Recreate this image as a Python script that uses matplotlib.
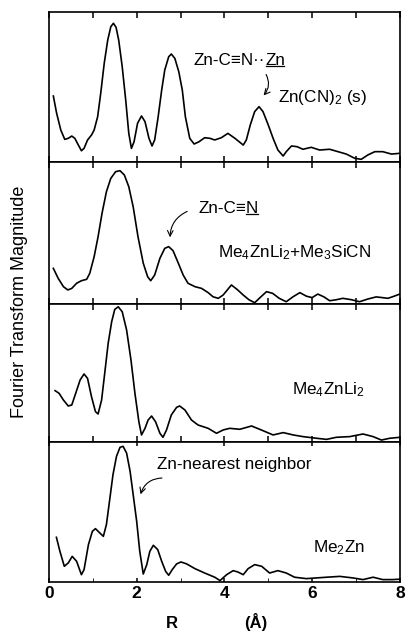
import matplotlib
matplotlib.use("Agg")
import matplotlib.pyplot as plt
from matplotlib.lines import Line2D

plt.rcParams["font.family"] = ["Liberation Sans", "DejaVu Sans"]
plt.rcParams["mathtext.fontset"] = "custom"
plt.rcParams["mathtext.rm"] = "Liberation Sans"
plt.rcParams["mathtext.it"] = "Liberation Sans:italic"
plt.rcParams["mathtext.bf"] = "Liberation Sans:bold"

# R (Angstrom) and normalised FT magnitude (top to bottom)
r_zncn = [0.10, 0.175, 0.27, 0.36, 0.44, 0.52, 0.59, 0.67, 0.74, 0.80, 0.88, 0.97, 1.03, 1.11, 1.18,
          1.26, 1.34, 1.41, 1.47, 1.53, 1.59, 1.67, 1.75, 1.82, 1.88, 1.94, 2.02, 2.11, 2.19, 2.28,
          2.35, 2.41, 2.49, 2.57, 2.64, 2.73, 2.79, 2.87, 2.96, 3.04, 3.11, 3.21, 3.31, 3.42, 3.55,
          3.67, 3.78, 3.93, 4.08, 4.24, 4.43, 4.50, 4.59, 4.69, 4.79, 4.88, 5.00, 5.11, 5.22, 5.34,
          5.41, 5.53, 5.66, 5.79, 5.98, 6.17, 6.40, 6.59, 6.78, 6.97, 7.12, 7.27, 7.43, 7.61, 7.81, 8.00]
m_zncn = [0.44, 0.325, 0.213, 0.151, 0.158, 0.173, 0.158, 0.113, 0.075, 0.091, 0.147, 0.18, 0.213, 0.302, 0.458,
          0.658, 0.813, 0.902, 0.925, 0.898, 0.813, 0.636, 0.413, 0.191, 0.091, 0.135, 0.258, 0.307, 0.269, 0.158,
          0.107, 0.147, 0.302, 0.48, 0.613, 0.702, 0.72, 0.691, 0.602, 0.48, 0.302, 0.158, 0.12, 0.135, 0.162,
          0.158, 0.147, 0.162, 0.191, 0.158, 0.113, 0.147, 0.247, 0.336, 0.369, 0.336, 0.247, 0.158, 0.08, 0.04,
          0.069, 0.107, 0.102, 0.085, 0.098, 0.08, 0.085, 0.069, 0.053, 0.025, 0.018, 0.047, 0.069, 0.069, 0.053, 0.058]

r_mix = [0.10, 0.21, 0.33, 0.43, 0.52, 0.63, 0.74, 0.86, 0.93, 1.03, 1.12, 1.21, 1.31, 1.41, 1.52,
         1.62, 1.72, 1.82, 1.92, 2.03, 2.15, 2.25, 2.32, 2.41, 2.53, 2.64, 2.73, 2.83, 2.95, 3.06,
         3.17, 3.33, 3.48, 3.63, 3.74, 3.86, 3.97, 4.16, 4.30, 4.43, 4.56, 4.69, 4.83, 4.96, 5.10,
         5.25, 5.41, 5.56, 5.72, 5.87, 6.00, 6.13, 6.27, 6.40, 6.55, 6.70, 6.90, 7.08, 7.27, 7.46,
         7.60, 7.73, 7.87, 8.00]
m_mix = [0.251, 0.181, 0.122, 0.099, 0.11, 0.146, 0.164, 0.174, 0.216, 0.333, 0.474, 0.639, 0.791, 0.885, 0.932,
         0.939, 0.908, 0.826, 0.685, 0.474, 0.287, 0.192, 0.164, 0.204, 0.322, 0.392, 0.404, 0.375, 0.287, 0.204,
         0.146, 0.122, 0.11, 0.08, 0.051, 0.04, 0.063, 0.134, 0.10, 0.063, 0.03, 0.009, 0.05, 0.087, 0.075,
         0.04, 0.016, 0.05, 0.08, 0.055, 0.045, 0.07, 0.05, 0.023, 0.03, 0.04, 0.03, 0.016, 0.035, 0.05,
         0.045, 0.04, 0.055, 0.07]

r_li = [0.14, 0.23, 0.33, 0.44, 0.52, 0.61, 0.71, 0.80, 0.88, 0.97, 1.06, 1.12, 1.20, 1.28, 1.35,
        1.43, 1.50, 1.58, 1.67, 1.77, 1.87, 1.96, 2.05, 2.11, 2.19, 2.26, 2.34, 2.43, 2.53, 2.60,
        2.68, 2.79, 2.91, 2.98, 3.10, 3.25, 3.40, 3.63, 3.82, 3.97, 4.12, 4.35, 4.62, 4.88, 5.11,
        5.34, 5.57, 5.79, 6.10, 6.33, 6.55, 6.86, 7.16, 7.39, 7.58, 7.77, 8.00]
m_li = [0.372, 0.353, 0.304, 0.261, 0.268, 0.353, 0.449, 0.493, 0.461, 0.328, 0.22, 0.203, 0.304, 0.522, 0.715,
        0.872, 0.961, 0.98, 0.944, 0.812, 0.594, 0.353, 0.147, 0.051, 0.099, 0.159, 0.188, 0.147, 0.063, 0.034,
        0.087, 0.196, 0.251, 0.261, 0.232, 0.159, 0.123, 0.099, 0.063, 0.087, 0.099, 0.092, 0.116, 0.082, 0.051,
        0.068, 0.051, 0.039, 0.027, 0.019, 0.034, 0.039, 0.058, 0.039, 0.014, 0.027, 0.034]

r_me2 = [0.17, 0.25, 0.35, 0.44, 0.53, 0.63, 0.74, 0.80, 0.90, 0.99, 1.06, 1.16, 1.24, 1.31, 1.39,
         1.46, 1.54, 1.62, 1.69, 1.77, 1.85, 1.92, 2.00, 2.07, 2.15, 2.23, 2.30, 2.38, 2.48, 2.57,
         2.66, 2.73, 2.81, 2.91, 3.01, 3.14, 3.33, 3.55, 3.78, 3.90, 4.05, 4.20, 4.31, 4.43, 4.54,
         4.69, 4.85, 5.03, 5.22, 5.41, 5.60, 5.87, 6.10, 6.33, 6.63, 6.93, 7.16, 7.39, 7.61, 7.84, 8.00]
m_me2 = [0.319, 0.219, 0.112, 0.136, 0.183, 0.148, 0.052, 0.088, 0.267, 0.362, 0.381, 0.35, 0.326, 0.41, 0.60,
         0.767, 0.898, 0.962, 0.969, 0.921, 0.79, 0.624, 0.433, 0.219, 0.057, 0.124, 0.219, 0.262, 0.231, 0.148,
         0.076, 0.048, 0.088, 0.129, 0.143, 0.129, 0.095, 0.064, 0.034, 0.01, 0.052, 0.081, 0.071, 0.052, 0.095,
         0.124, 0.112, 0.064, 0.081, 0.064, 0.034, 0.024, 0.029, 0.034, 0.04, 0.029, 0.017, 0.034, 0.017, 0.017, 0.02]

fig = plt.figure(figsize=(4.08, 6.33), dpi=100)
gs = fig.add_gridspec(4, 1, height_ratios=[150, 142, 138, 140], hspace=0,
                      left=0.120, right=0.980, top=0.981, bottom=0.0806)
axes = [fig.add_subplot(gs[i]) for i in range(4)]

for ax, r, m in zip(axes, [r_zncn, r_mix, r_li, r_me2], [m_zncn, m_mix, m_li, m_me2]):
    ax.plot(r, m, color="black", lw=1.2, solid_joinstyle="round")
    ax.set_xlim(0, 8)
    ax.set_ylim(0, 1)
    ax.set_yticks([])
    ax.set_xticks(range(9))
    ax.tick_params(axis="x", direction="in", top=True, bottom=True, length=4, width=1.1,
                   labelbottom=False)
    for s in ax.spines.values():
        s.set_linewidth(1.2)

axes[3].set_xticks([0, 2, 4, 6, 8])
axes[3].set_xticks([1, 3, 5, 7], minor=True)
axes[3].tick_params(axis="x", which="both", direction="in", length=3, labelbottom=True,
                    labelsize=12.5, pad=3)
for lab in axes[3].get_xticklabels():
    lab.set_fontweight("bold")

# axis titles
fig.text(172 / 408, 1 - 628 / 633, "R", ha="center", va="baseline", fontsize=12, fontweight="bold")
fig.text(256 / 408, 1 - 628 / 633, "(Å)", ha="center", va="baseline", fontsize=12, fontweight="bold")
fig.text(0.047, 0.523, "Fourier Transform Magnitude", rotation=90, va="center", ha="center",
         fontsize=13)

fs = 12.3


def underlined_label(ax, x, y, head, tail):
    # head text, then an underlined tail right after it
    t1 = ax.text(x, y, head, ha="left", va="center", fontsize=fs)
    t2 = ax.annotate(tail, xy=(1, 0), xycoords=t1, ha="left", va="bottom", fontsize=fs)
    fig.canvas.draw()
    bb = t2.get_window_extent()
    inv = fig.transFigure.inverted()
    (x0, y0), (x1, _) = inv.transform([(bb.x0 + 0.5, bb.y0 + 1.5), (bb.x1 - 0.5, bb.y0 + 1.5)])
    fig.add_artist(Line2D([x0, x1], [y0, y0], color="black", lw=0.9))


a = axes[0]
underlined_label(a, 3.3, 0.68, "Zn-C≡N··", "Zn")
a.annotate("", xy=(4.85, 0.43), xytext=(4.92, 0.60),
           arrowprops=dict(arrowstyle="->", lw=0.8, connectionstyle="arc3,rad=-0.4"))
a.text(5.22, 0.43, r"Zn(CN)$_2$ (s)", ha="left", va="center", fontsize=fs)

a = axes[1]
underlined_label(a, 3.4, 0.676, "Zn-C≡", "N")
a.annotate("", xy=(2.76, 0.45), xytext=(3.21, 0.66),
           arrowprops=dict(arrowstyle="->", lw=0.8, connectionstyle="arc3,rad=0.35"))
a.text(3.85, 0.36, r"Me$_4$ZnLi$_2$+Me$_3$SiCN", ha="left", va="center", fontsize=fs)

axes[2].text(5.54, 0.377, r"Me$_4$ZnLi$_2$", ha="left", va="center", fontsize=fs)

a = axes[3]
a.text(2.46, 0.836, "Zn-nearest neighbor", ha="left", va="center", fontsize=fs)
a.annotate("", xy=(2.07, 0.607), xytext=(2.64, 0.743),
           arrowprops=dict(arrowstyle="->", lw=0.8, connectionstyle="arc3,rad=0.4"))
a.text(6.01, 0.243, r"Me$_2$Zn", ha="left", va="center", fontsize=fs)

fig.savefig("out.png", dpi=100)
